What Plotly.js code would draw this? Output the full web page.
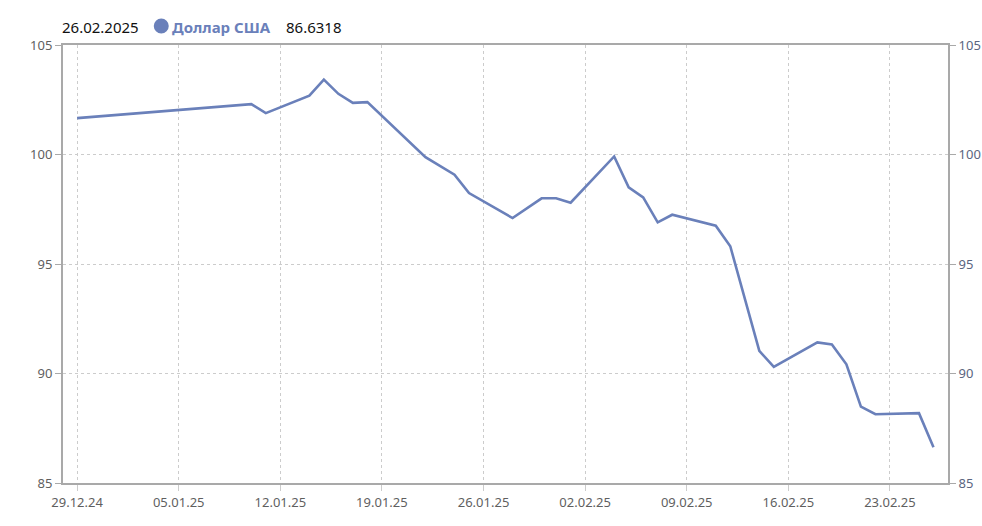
<!DOCTYPE html>
<html>
<head>
<meta charset="utf-8">
<script src="https://cdn.plot.ly/plotly-3.0.1.min.js"></script>
<style>html,body{margin:0;padding:0;background:#fff;}#chart{width:982px;height:526px;}</style>
</head>
<body>
<div id="chart"></div>
<script>
const dates = ['2024-12-29','2025-01-10','2025-01-11','2025-01-14','2025-01-15','2025-01-16','2025-01-17','2025-01-18','2025-01-22','2025-01-24','2025-01-25','2025-01-28','2025-01-30','2025-01-31','2025-02-01','2025-02-04','2025-02-05','2025-02-06','2025-02-07','2025-02-08','2025-02-11','2025-02-12','2025-02-14','2025-02-15','2025-02-18','2025-02-19','2025-02-20','2025-02-21','2025-02-22','2025-02-25','2025-02-26'];
const usdValues = [101.66,102.30,101.89,102.69,103.42,102.77,102.36,102.39,99.88,99.08,98.24,97.10,98.00,98.00,97.80,99.91,98.50,98.04,96.90,97.25,96.75,95.81,91.03,90.30,91.42,91.33,90.42,88.49,88.14,88.19,86.6318];
const seriesName = 'Доллар США';
const headerDate = '26.02.2025';
const headerValue = '86.6318';
const yTicks = [85,90,95,100,105];

const lineColor = '#6a80ba';
const axisColor = '#a9a9a9';
const tickFont = {family:'Noto Sans, sans-serif', size:13, color:'#5f5f5f'};

const traces = [
  {x:dates, y:usdValues, type:'scatter', mode:'lines', name:seriesName,
   line:{color:lineColor, width:2.6}, xaxis:'x', yaxis:'y'},
  {x:dates, y:usdValues, type:'scatter', mode:'lines', showlegend:false, hoverinfo:'skip',
   line:{color:'rgba(0,0,0,0)', width:0}, xaxis:'x', yaxis:'y2'}
];

const W = 982, H = 526, L = 62.7, R = 34, T = 45, B = 42.7;
const pw = W - L - R, ph = H - T - B;
const px = v => (v - L) / pw;
const py = v => (H - B - v) / ph;

const layout = {
  width: W, height: H,
  margin:{l:L, r:R, t:T, b:B, pad:0},
  paper_bgcolor:'#fff', plot_bgcolor:'#fff',
  showlegend:false,
  xaxis:{type:'date', range:['2024-12-28 00:40','2025-02-27 00:00'],
    tick0:'2024-12-29', dtick:7*86400000, tickformat:'%d.%m.%y',
    showgrid:true, gridcolor:'#cccccc', griddash:'3px,3px', gridwidth:1,
    showline:true, linecolor:axisColor, linewidth:2, mirror:true,
    ticks:'outside', ticklen:6, tickcolor:'#cccccc', tickfont:tickFont, zeroline:false},
  yaxis:{range:[85,105], tickvals:yTicks, showgrid:true, gridcolor:'#cccccc', griddash:'3px,3px', gridwidth:1,
    showline:true, linecolor:axisColor, linewidth:2, ticks:'outside', ticklen:6, tickcolor:axisColor,
    tickfont:tickFont, zeroline:false},
  yaxis2:{range:[85,105], tickvals:yTicks, overlaying:'y', side:'right', showgrid:false,
    showline:true, linecolor:axisColor, linewidth:2, ticks:'outside', ticklen:6, tickcolor:axisColor,
    tickfont:{family:'Noto Sans, sans-serif', size:13, color:'#5a6580'}, zeroline:false},
  shapes:[
    {type:'circle', xref:'paper', yref:'paper', x0:px(153.5), x1:px(168.5), y0:py(33.5), y1:py(18.5),
     fillcolor:lineColor, line:{width:0}}
  ],
  annotations:[
    {xref:'paper', yref:'paper', x:px(60), y:py(27), xanchor:'left', yanchor:'middle', showarrow:false,
     text:headerDate, font:{family:'Noto Sans, sans-serif', size:15, color:'#111'}},
    {xref:'paper', yref:'paper', x:px(170), y:py(27), xanchor:'left', yanchor:'middle', showarrow:false,
     text:'<b>'+seriesName+'</b>', font:{family:'Noto Sans, sans-serif', size:15, color:lineColor}},
    {xref:'paper', yref:'paper', x:px(284), y:py(27), xanchor:'left', yanchor:'middle', showarrow:false,
     text:headerValue, font:{family:'Noto Sans, sans-serif', size:15, color:'#111'}}
  ]
};

Plotly.newPlot('chart', traces, layout, {displayModeBar:false, staticPlot:true});
</script>
</body>
</html>
